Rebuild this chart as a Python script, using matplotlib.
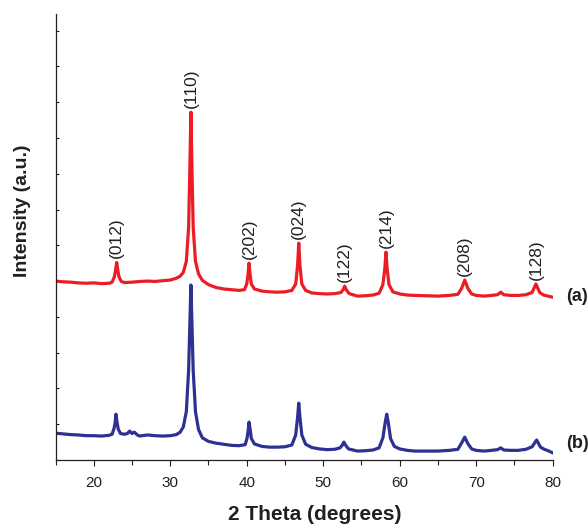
import matplotlib
matplotlib.use("Agg")
import matplotlib.pyplot as plt
from matplotlib.ticker import MultipleLocator

plt.rcParams['font.family'] = ['Liberation Sans', 'DejaVu Sans']

# Curve (a) - red : (2theta, intensity)
curve_a = [
    (15.0, 5.00), (16.0, 4.98), (17.0, 4.97), (18.0, 4.95), (19.0, 4.94), (20.0, 4.95),
    (21.0, 4.93), (22.0, 4.94), (22.4, 4.97), (22.7, 5.12), (22.85, 5.30), (23.0, 5.52),
    (23.15, 5.30), (23.3, 5.12), (23.6, 4.99), (24.0, 4.96), (25.0, 4.97), (26.0, 4.99),
    (27.0, 5.00), (28.0, 4.99), (29.0, 5.01), (30.0, 5.03), (30.8, 5.08), (31.3, 5.14),
    (31.7, 5.24), (32.1, 5.55), (32.4, 6.50), (32.55, 8.00), (32.7, 9.72), (32.85, 8.00),
    (33.0, 6.50), (33.3, 5.55), (33.7, 5.20), (34.2, 5.02), (35.0, 4.90), (36.0, 4.82),
    (37.0, 4.78), (38.0, 4.76), (39.0, 4.74), (39.7, 4.76), (40.0, 4.92), (40.15, 5.15),
    (40.3, 5.50), (40.45, 5.15), (40.6, 4.92), (41.0, 4.78), (42.0, 4.72), (43.0, 4.70),
    (44.0, 4.69), (45.0, 4.70), (45.9, 4.74), (46.4, 4.92), (46.65, 5.45), (46.8, 6.06),
    (46.95, 5.45), (47.2, 4.92), (47.7, 4.74), (48.5, 4.67), (49.5, 4.65), (50.5, 4.64),
    (51.5, 4.65), (52.3, 4.68), (52.6, 4.76), (52.8, 4.86), (53.0, 4.76), (53.4, 4.65),
    (54.5, 4.58), (55.5, 4.59), (56.5, 4.61), (57.3, 4.66), (57.8, 4.90), (58.05, 5.35),
    (58.2, 5.81), (58.35, 5.35), (58.6, 4.90), (59.1, 4.70), (60.0, 4.64), (61.0, 4.61),
    (62.0, 4.60), (63.5, 4.59), (65.0, 4.58), (66.5, 4.60), (67.6, 4.63), (68.1, 4.80),
    (68.5, 5.03), (68.9, 4.80), (69.4, 4.64), (70.0, 4.60), (71.0, 4.58), (72.0, 4.60),
    (72.8, 4.62), (73.2, 4.69), (73.6, 4.62), (74.5, 4.60), (75.5, 4.60), (76.5, 4.62),
    (77.3, 4.68), (77.8, 4.92), (78.3, 4.68), (78.8, 4.61), (79.4, 4.58), (80.0, 4.55),
]

# Curve (b) - blue
curve_b = [
    (15.0, 0.75), (16.0, 0.73), (17.0, 0.71), (18.0, 0.70), (19.0, 0.68), (20.0, 0.68),
    (21.0, 0.67), (22.0, 0.69), (22.4, 0.72), (22.65, 0.88), (22.8, 1.05), (22.9, 1.28),
    (23.05, 1.05), (23.2, 0.86), (23.5, 0.74), (24.0, 0.72), (24.4, 0.74), (24.7, 0.81),
    (25.0, 0.74), (25.3, 0.78), (25.7, 0.70), (26.0, 0.67), (27.0, 0.70), (28.0, 0.68),
    (29.0, 0.67), (30.0, 0.68), (30.8, 0.71), (31.3, 0.78), (31.7, 0.92), (32.1, 1.35),
    (32.4, 2.50), (32.55, 3.70), (32.7, 4.89), (32.85, 3.70), (33.0, 2.50), (33.3, 1.35),
    (33.7, 0.85), (34.2, 0.62), (35.0, 0.52), (36.0, 0.47), (37.0, 0.44), (38.0, 0.41),
    (39.0, 0.40), (39.8, 0.43), (40.05, 0.62), (40.2, 0.85), (40.3, 1.06), (40.45, 0.85),
    (40.6, 0.60), (41.0, 0.45), (42.0, 0.38), (43.0, 0.36), (44.0, 0.36), (45.0, 0.37),
    (45.9, 0.42), (46.4, 0.70), (46.65, 1.20), (46.8, 1.59), (46.95, 1.20), (47.2, 0.70),
    (47.7, 0.44), (48.5, 0.35), (49.5, 0.31), (50.5, 0.29), (51.5, 0.30), (52.2, 0.34),
    (52.5, 0.42), (52.7, 0.50), (52.9, 0.42), (53.3, 0.31), (54.5, 0.25), (55.5, 0.26),
    (56.5, 0.28), (57.3, 0.34), (57.8, 0.62), (58.1, 1.05), (58.3, 1.28), (58.5, 1.05),
    (58.8, 0.60), (59.3, 0.38), (60.0, 0.31), (61.0, 0.27), (62.0, 0.25), (63.5, 0.25),
    (65.0, 0.25), (66.5, 0.27), (67.6, 0.30), (68.1, 0.48), (68.5, 0.64), (68.9, 0.46),
    (69.4, 0.31), (70.0, 0.27), (71.0, 0.25), (72.0, 0.27), (72.8, 0.29), (73.2, 0.34),
    (73.6, 0.28), (74.5, 0.27), (75.5, 0.27), (76.5, 0.30), (77.3, 0.37), (77.9, 0.56),
    (78.4, 0.36), (78.9, 0.30), (79.4, 0.26), (80.0, 0.20),
]

# Peak labels (on curve a)
peak_labels = ['(012)', '(110)', '(202)', '(024)', '(122)', '(214)', '(208)', '(128)']
peak_pos = [23.0, 32.7, 40.3, 46.8, 52.8, 58.2, 68.5, 77.8]
peak_height = [5.52, 9.72, 5.50, 6.06, 4.86, 5.81, 5.03, 4.92]

red = '#EC1C24'
blue = '#2E3192'
ink = '#231F20'

fig = plt.figure(figsize=(5.88, 5.24), dpi=100)
ax = fig.add_axes([0.0944, 0.1221, 0.8456, 0.8509])

xa, ya = zip(*curve_a)
xb, yb = zip(*curve_b)
ax.plot(xa, ya, color=red, lw=2.3, solid_joinstyle='round')
ax.plot(xb, yb, color=blue, lw=2.3, solid_joinstyle='round')

for lab, xp, yp in zip(peak_labels, peak_pos, peak_height):
    ax.annotate(lab, xy=(xp, yp), xytext=(0, 3), textcoords='offset points',
                rotation=90, ha='center', va='bottom', fontsize=12.5, color=ink)

ax.annotate('(a)', xy=(1.0, 4.58), xycoords=('axes fraction', 'data'),
            xytext=(10, 0), textcoords='offset points', ha='left', va='center',
            fontsize=13, fontweight='bold', color=ink, annotation_clip=False)
ax.annotate('(b)', xy=(1.0, 0.45), xycoords=('axes fraction', 'data'),
            xytext=(10, 0), textcoords='offset points', ha='left', va='center',
            fontsize=13, fontweight='bold', color=ink, annotation_clip=False)

ax.set_xlim(15, 80)
ax.set_ylim(0, 12.46)
ax.xaxis.set_major_locator(MultipleLocator(10))
ax.xaxis.set_minor_locator(MultipleLocator(5))
ax.yaxis.set_major_locator(MultipleLocator(1))
ax.set_yticklabels([])
ax.tick_params(axis='x', which='major', direction='out', length=4.5, width=0.8,
               labelsize=11, pad=7, colors=ink)
ax.tick_params(axis='x', which='minor', direction='out', length=3.5, width=0.8,
               colors=ink)
ax.tick_params(axis='y', which='major', direction='in', length=2, width=0.8,
               colors=ink)
for s in ['top', 'right']:
    ax.spines[s].set_visible(False)
for s in ['left', 'bottom']:
    ax.spines[s].set_linewidth(0.9)
    ax.spines[s].set_color(ink)

ax.set_xlabel('2 Theta (degrees)', fontsize=15, fontweight='bold', color=ink)
ax.set_ylabel('Intensity (a.u.)', fontsize=14, fontweight='bold', color=ink)
ax.xaxis.set_label_coords(0.522, -0.10)
ax.yaxis.set_label_coords(-0.05, 0.56)

fig.savefig('out.png', dpi=100)
